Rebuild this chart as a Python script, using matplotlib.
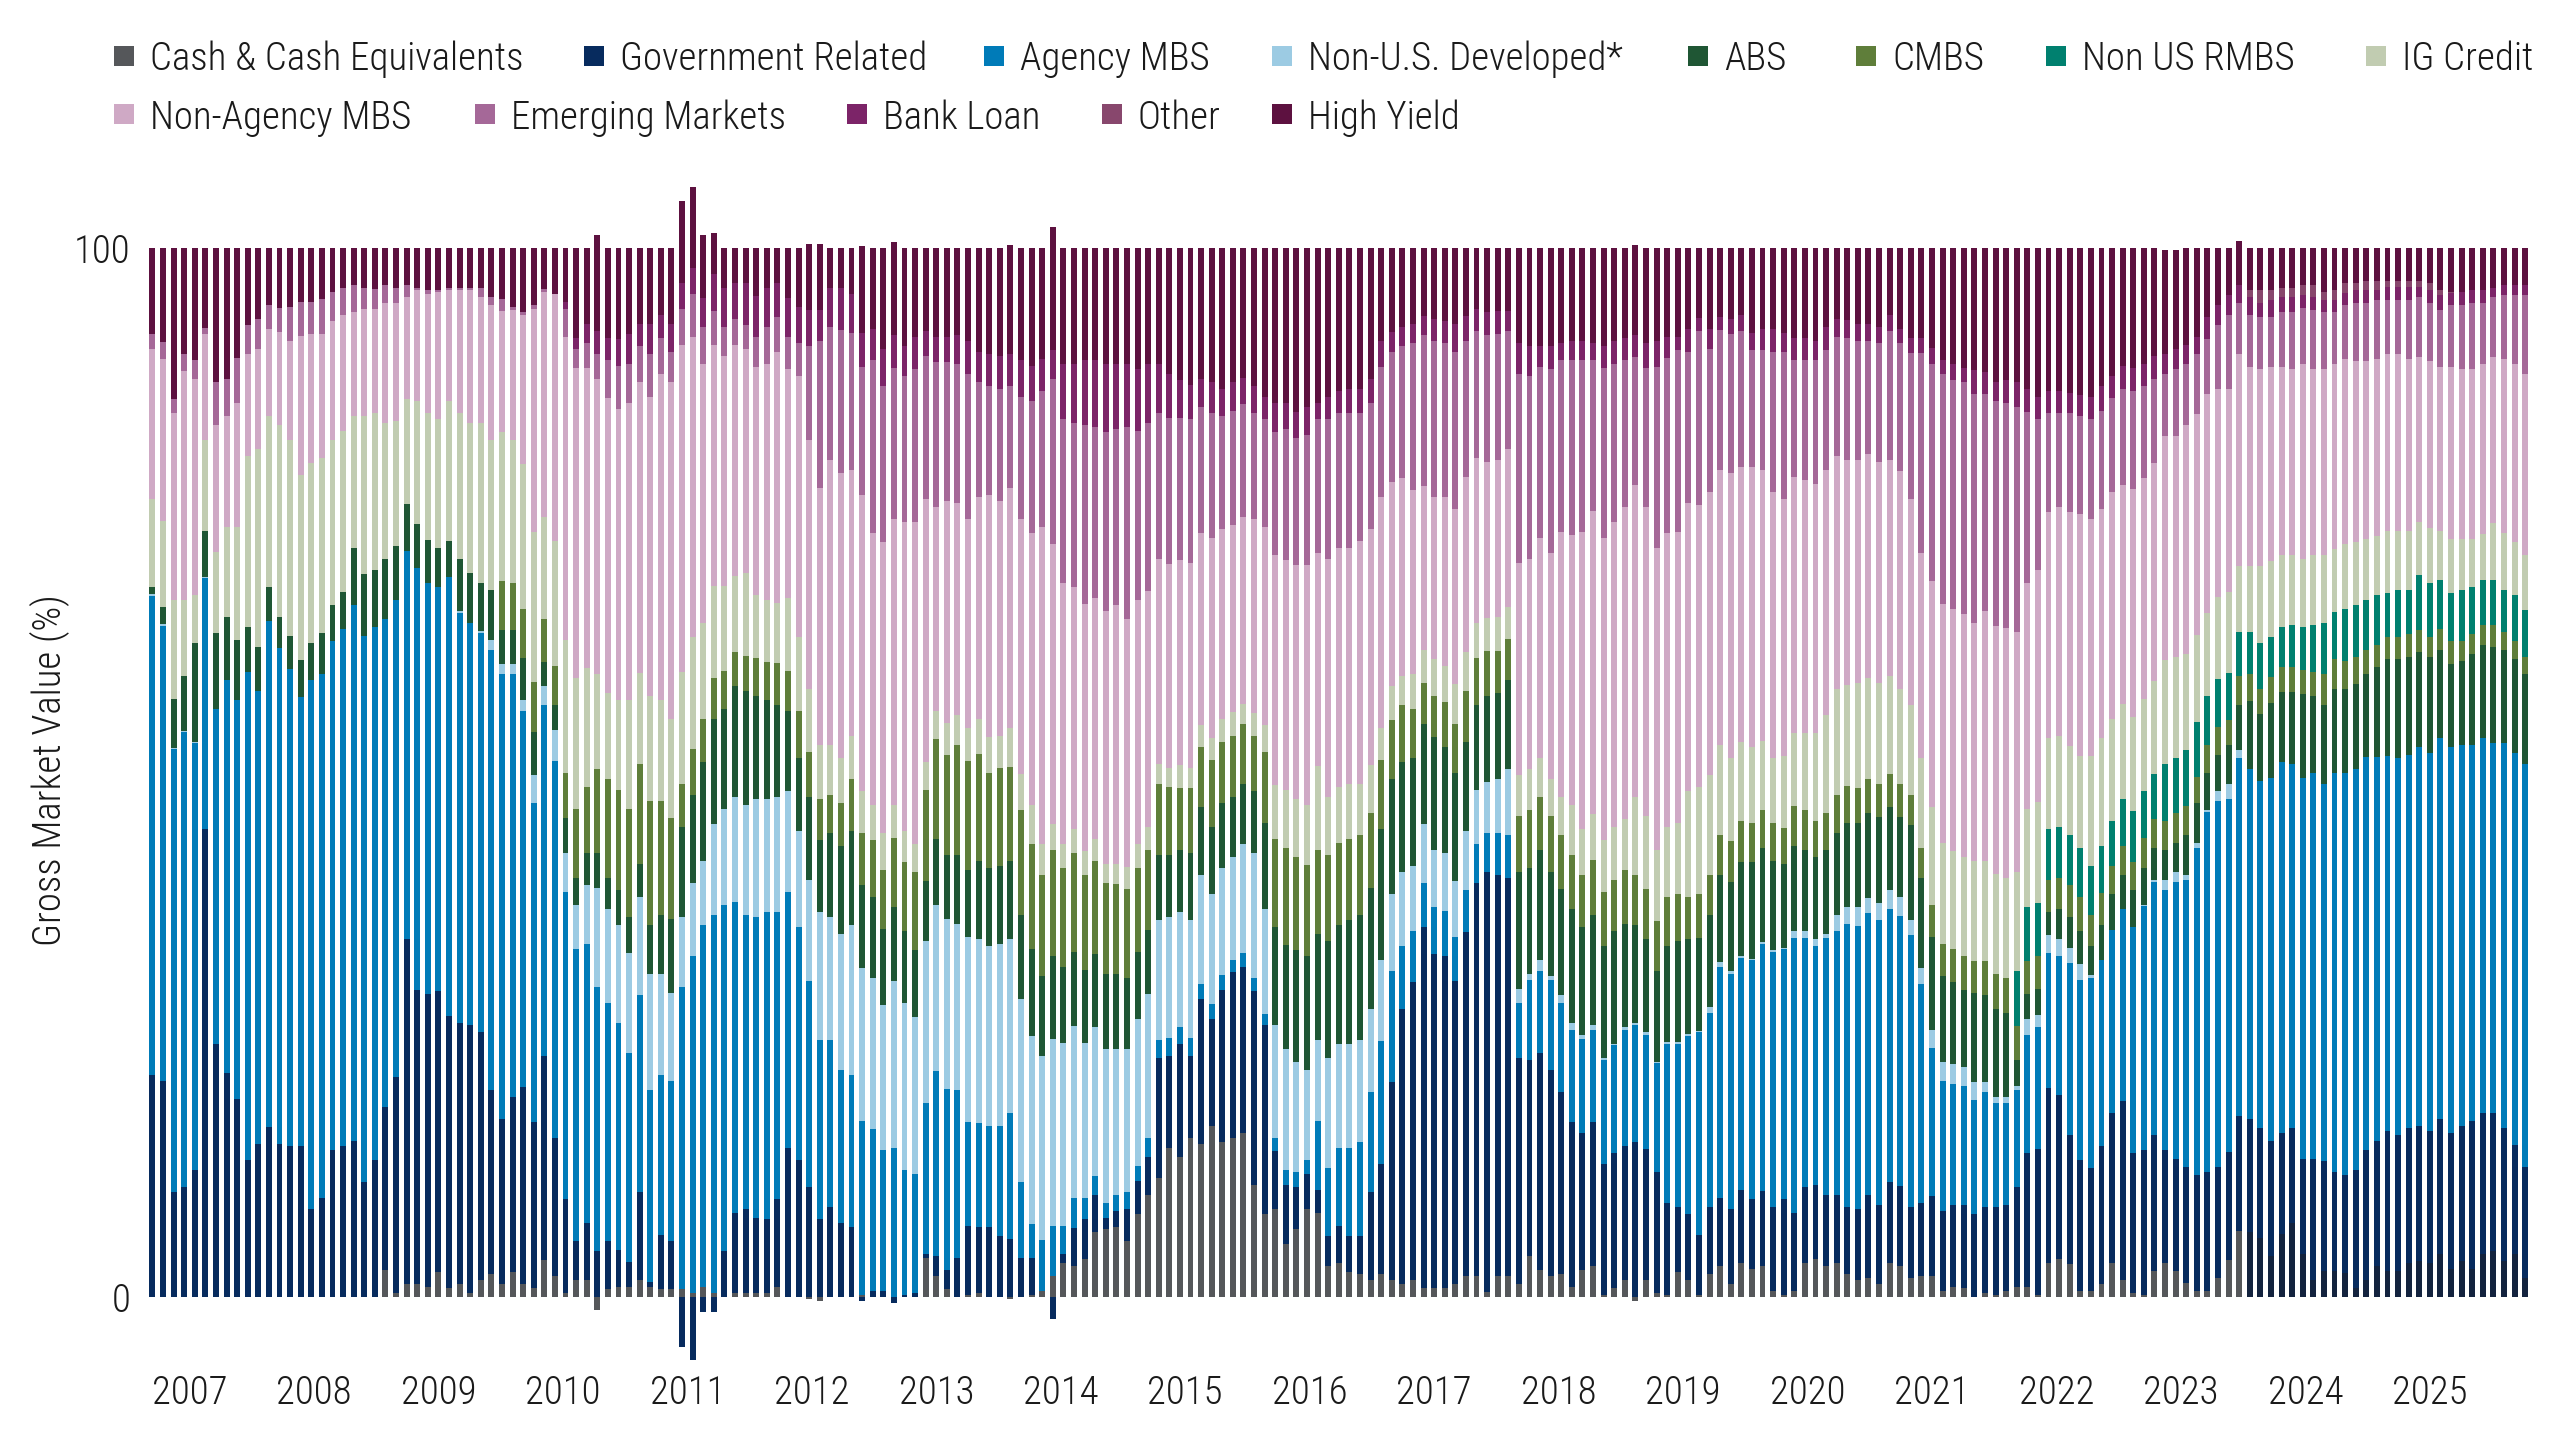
import matplotlib
matplotlib.use("Agg")
import matplotlib.pyplot as plt
from matplotlib import font_manager
from matplotlib.patches import Rectangle
import numpy as np

# ---------------- data (share of gross market value, %) ----------------
years = ["2007", "2008", "2009", "2010", "2011", "2012", "2013", "2014", "2015",
         "2016", "2017", "2018", "2019", "2020", "2021", "2022", "2023", "2024", "2025"]

cash = [
    0, 0, 0, 0, 0, 0, 0, 0, 0, 0, 0, 0, 0, 0, 0,
    0, 0, 0, 0, 0, 0, 0, 2.6, 0.4, 1.2, 1.2, 1.0, 2.4, 0.9, 1.2,
    0.4, 1.6, 2.2, 1.2, 2.4, 1.2, 0.9, 3.5, 2.0, 0.4, 1.6, 1.6, -1.2, 0.8, 1.0,
    1.0, 1.6, 1.0, 0.8, 0.8, 0.8, 0.4, 1.0, 0.4, 0, 0.4, 0.4, 0.4, 0.4, 1.0,
    0, 0, -0.2, -0.4, 0, 0, 0, 0.2, 0, 0, 0, 0, 0, 3.7, 2.0,
    0.8, 0, 0.2, 0.4, 0, 0, -0.2, 0, 0.2, 0.6, 2.0, 3.2, 3.0, 3.6, 6.2,
    6.5, 6.7, 5.3, 7.9, 9.7, 11.3, 14.2, 13.3, 15.2, 14.6, 16.3, 14.8, 15.2, 15.6, 10.7,
    7.9, 8.4, 5.1, 6.5, 8.4, 8.0, 3.0, 3.2, 2.4, 2.2, 1.6, 2.2, 1.6, 1.2, 1.6,
    0.9, 0.9, 0.9, 1.2, 2.0, 2.0, 0.5, 2.0, 2.0, 1.2, 3.9, 2.6, 2.0, 2.2, 1.0,
    2.6, 3.0, 0.2, 0.9, 1.6, -0.4, 1.6, 0.4, 0.2, 2.4, 1.6, 0.2, 2.2, 3.0, 1.2,
    3.2, 2.7, 3.0, 0.6, 0.2, 0.6, 3.2, 3.6, 3.0, 3.2, 2.2, 1.6, 1.8, 1.2, 3.2,
    3.0, 1.8, 2.0, 2.0, 0.6, 1.0, 0.9, 0, 0.4, 0.2, 0.6, 1.0, 1.0, 0.2, 3.2,
    3.6, 3.1, 0.6, 0.6, 1.2, 3.2, 1.6, 0.4, 0.2, 2.5, 3.2, 2.5, 1.3, 0.6, 0.6,
    1.8, 3.5, 6.3, 6.2, 5.6, 3.9, 6.0, 7.1, 4.1, 1.6, 2.5, 2.5, 2.3, 0.9, 1.6,
    3.0, 2.5, 2.5, 3.2, 3.4, 3.2, 4.1, 2.7, 3.4, 2.7, 4.1, 4.4, 3.4, 4.1, 1.8,
]

government_related = [
    21.2, 20.6, 10.0, 10.5, 12.1, 44.6, 24.1, 21.4, 18.9, 13.1, 14.6, 16.2, 14.6, 14.4, 14.4,
    8.4, 9.4, 14.0, 14.4, 14.9, 11.0, 13.1, 15.5, 20.6, 32.9, 28.1, 27.9, 26.8, 25.9, 24.9,
    25.5, 23.7, 17.5, 15.8, 16.7, 18.8, 15.8, 19.5, 13.2, 8.9, 3.7, 5.5, 4.4, 4.5, 3.5,
    2.3, 8.4, 0.4, 5.1, 4.5, -4.8, -6.0, -1.4, -1.4, 4.4, 7.6, 8.0, 7.1, 7.0, 8.3,
    14.2, 13.1, 10.5, 7.4, 8.6, 7.1, 6.7, -0.4, 0.6, 0.6, -0.6, 0.2, 0.4, 0.4, 1.9,
    1.8, 3.7, 6.6, 6.3, 6.7, 5.8, 5.5, 3.7, 3.5, 0, -2.1, 0.9, 3.6, 3.8, 3.5,
    1.0, 1.5, 3.1, 3.2, 3.6, 11.5, 8.8, 10.8, 7.8, 13.8, 10.2, 14.5, 15.8, 15.9, 18.5,
    18.0, 5.5, 5.6, 4.0, 3.3, 2.2, 2.8, 3.6, 3.4, 3.6, 8.4, 10.5, 18.9, 26.3, 28.4,
    34.4, 31.8, 31.6, 28.9, 32.8, 37.5, 40.0, 38.2, 37.9, 21.6, 18.7, 20.7, 19.6, 17.3, 15.7,
    13.0, 13.7, 12.5, 12.8, 12.8, 14.8, 12.5, 11.5, 8.8, 6.2, 6.3, 5.7, 6.4, 6.4, 7.2,
    7.0, 6.6, 7.1, 8.0, 9.1, 7.4, 7.3, 7.1, 6.7, 6.5, 6.4, 6.8, 7.9, 7.6, 7.8,
    7.6, 6.8, 7.0, 7.6, 7.6, 7.8, 7.9, 7.9, 8.2, 8.4, 8.2, 9.5, 12.7, 13.9, 16.7,
    15.7, 12.3, 12.5, 11.7, 13.2, 14.3, 17.1, 13.3, 13.8, 12.9, 10.8, 10.7, 11.1, 11.0, 11.3,
    10.6, 10.3, 11.0, 10.8, 10.5, 11.0, 9.6, 9.0, 9.1, 11.6, 10.5, 9.4, 9.3, 11.2, 12.4,
    11.9, 13.3, 12.9, 12.9, 12.9, 12.6, 12.9, 12.9, 12.9, 14.1, 13.4, 13.1, 12.7, 10.4, 10.6,
]

agency_mbs = [
    45.6, 43.4, 42.2, 43.4, 40.7, 23.9, 32.0, 37.4, 38.0, 46.5, 43.2, 48.2, 47.3, 45.5, 42.8,
    50.4, 50.0, 48.5, 49.3, 51.1, 52.0, 50.8, 46.5, 45.4, 37.0, 40.2, 39.2, 38.5, 41.8, 39.1,
    38.4, 38.0, 42.0, 42.4, 40.3, 35.9, 30.4, 33.4, 35.9, 29.3, 27.9, 26.6, 25.2, 22.7, 21.6,
    20.0, 18.8, 18.3, 15.3, 15.3, 28.8, 32.1, 34.5, 36.0, 33.0, 29.7, 28.0, 28.7, 29.3, 27.4,
    24.4, 22.2, 19.6, 17.1, 15.9, 14.5, 14.5, 16.6, 15.4, 13.4, 14.2, 11.9, 11.3, 14.4, 17.6,
    17.2, 16.0, 9.9, 9.9, 9.6, 10.5, 12.0, 7.3, 3.3, 4.8, 4.8, 2.7, 2.8, 2.0, 1.8,
    1.5, 1.5, 1.6, 1.4, 1.9, 1.7, 1.7, 1.6, 1.7, 1.4, 1.4, 1.4, 1.1, 1.3, 1.2,
    1.1, 1.3, 1.4, 1.4, 1.4, 6.6, 6.5, 7.4, 8.4, 9.0, 9.5, 11.7, 10.6, 6.0, 4.9,
    4.2, 4.5, 4.3, 4.2, 4.0, 3.7, 3.7, 4.0, 4.1, 5.2, 7.6, 7.8, 8.6, 8.5, 8.8,
    9.0, 8.8, 9.9, 10.3, 11.1, 11.1, 10.9, 10.4, 15.1, 15.5, 17.0, 19.4, 18.5, 22.1, 22.4,
    22.1, 22.8, 23.6, 24.3, 23.9, 26.2, 23.7, 22.8, 24.5, 25.2, 27.0, 27.0, 26.9, 27.1, 26.0,
    25.7, 25.9, 20.8, 14.1, 12.4, 11.5, 11.3, 10.9, 10.9, 9.9, 9.7, 9.2, 11.3, 11.6, 12.9,
    13.2, 16.4, 17.1, 18.1, 17.7, 17.5, 18.3, 21.6, 23.3, 24.2, 24.8, 26.4, 27.4, 31.2, 34.3,
    34.9, 33.7, 34.1, 33.3, 33.1, 34.6, 35.4, 34.7, 36.3, 36.8, 35.9, 38.1, 38.4, 38.2, 37.5,
    36.6, 35.8, 36.0, 35.6, 36.1, 36.1, 36.3, 36.8, 36.3, 35.8, 35.8, 35.3, 36.7, 37.4, 38.4,
]

non_us_developed = [
    0.2, 0.2, 0.1, 0.1, 0.1, 0.1, 0, 0, 0, 0, 0, 0, 0, 0, 0,
    0, 0, 0, 0, 0, 0, 0, 0, 0, 0, 0, 0, 0, 0, 0.2,
    0, 0.2, 0.9, 0.9, 0.9, 1.0, 2.7, 1.8, 3.0, 3.7, 4.2, 5.6, 9.4, 9.0, 9.4,
    9.5, 9.3, 11.1, 9.6, 8.4, 6.6, 7.0, 6.1, 8.7, 9.1, 10.0, 10.5, 11.3, 10.8, 11.0,
    9.6, 9.1, 9.7, 12.2, 11.7, 13.0, 14.3, 14.6, 14.4, 13.8, 15.9, 15.9, 15.0, 15.4, 15.9,
    16.2, 15.9, 17.6, 17.5, 17.2, 17.4, 16.6, 17.4, 17.9, 17.6, 17.8, 17.4, 16.4, 14.8, 14.2,
    14.6, 13.9, 13.6, 14.0, 13.7, 11.4, 11.5, 11.0, 11.2, 10.4, 10.5, 10.2, 9.8, 10.4, 11.9,
    10.0, 10.7, 11.5, 10.5, 8.5, 7.7, 10.5, 9.9, 9.9, 9.7, 8.0, 7.7, 7.3, 7.0, 6.2,
    5.6, 5.4, 5.5, 5.4, 5.6, 5.1, 4.9, 5.2, 6.3, 1.4, 0.6, 1.0, 0.4, 0.8, 0.6,
    0.4, 0.4, 0.2, 0.1, 0.2, 0.2, 0.3, 0.1, 0.2, 0.2, 0.2, 0.1, 0.5, 0.4, 0.3,
    0.2, 0.1, 0.1, 0.2, 0.1, 0.7, 0.7, 0.6, 0.4, 1.5, 1.6, 1.8, 1.4, 1.7, 1.8,
    1.8, 1.4, 1.6, 1.8, 1.8, 1.9, 1.8, 1.7, 1.0, 0.6, 0.6, 0.4, 1.5, 1.2, 1.7,
    1.6, 1.5, 1.5, 0.3, 0, 0, 0, 0, 0.1, 0.2, 1.0, 0.9, 0.4, 0.5, 0.2,
    0.9, 1.4, 0.7, 0, 0, 0, 0, 0, 0, 0, 0, 0, 0, 0, 0,
    0, 0, 0, 0, 0, 0, 0, 0, 0, 0, 0, 0, 0, 0, 0,
]

abs_ = [
    0.7, 1.6, 4.7, 5.2, 9.4, 4.4, 7.2, 6.0, 5.7, 4.3, 4.2, 3.3, 2.9, 3.1, 3.5,
    3.5, 3.9, 3.5, 3.5, 5.4, 5.9, 5.4, 5.8, 5.2, 4.5, 4.2, 4.1, 3.7, 3.5, 5.0,
    4.7, 4.6, 4.8, 3.3, 3.3, 4.0, 4.1, 2.3, 2.3, 3.4, 2.5, 3.0, 3.3, 2.9, 3.3,
    3.4, 3.2, 4.7, 5.6, 7.0, 8.6, 8.4, 9.4, 10.0, 9.6, 10.5, 10.9, 9.8, 9.4, 8.7,
    7.7, 7.0, 7.9, 6.9, 8.0, 8.4, 8.9, 7.9, 7.7, 7.3, 7.1, 6.9, 6.4, 5.8, 6.3,
    6.1, 6.5, 6.4, 7.5, 7.4, 7.4, 7.5, 8.0, 8.3, 7.6, 7.9, 7.3, 7.1, 7.0, 7.0,
    7.2, 7.2, 6.8, 6.4, 6.1, 6.2, 5.9, 5.9, 6.4, 6.5, 6.4, 6.2, 5.8, 5.7, 5.9,
    8.2, 9.4, 10.0, 10.7, 10.9, 10.1, 11.1, 11.4, 11.8, 11.9, 11.5, 12.5, 11.0, 10.5, 10.3,
    9.5, 10.8, 10.1, 10.3, 8.5, 8.1, 8.2, 8.2, 8.5, 11.1, 10.1, 10.5, 9.9, 10.1, 10.9,
    10.3, 10.5, 10.7, 10.8, 9.9, 9.4, 8.8, 8.7, 9.2, 9.6, 9.0, 8.8, 8.8, 8.3, 8.5,
    9.0, 9.3, 9.0, 8.5, 8.0, 8.1, 7.7, 7.8, 8.0, 7.8, 8.0, 8.0, 8.1, 8.2, 7.9,
    7.7, 9.1, 8.5, 8.8, 8.2, 7.8, 7.4, 8.5, 8.3, 8.4, 8.0, 2.5, 2.4, 2.5, 2.2,
    2.9, 2.9, 3.2, 2.8, 3.4, 3.4, 3.2, 3.5, 3.5, 3.0, 2.8, 2.8, 3.8, 3.8, 3.6,
    3.5, 3.7, 4.3, 6.5, 6.4, 7.1, 6.7, 6.9, 8.0, 7.3, 7.5, 8.0, 8.0, 8.1, 7.9,
    8.6, 9.2, 9.4, 9.3, 9.1, 9.1, 8.4, 7.9, 8.0, 8.7, 8.9, 9.2, 8.9, 8.9, 8.6,
]

cmbs = [
    0, 0, 0, 0, 0, 0, 0, 0, 0, 0, 0, 0, 0, 0, 0,
    0, 0, 0, 0, 0, 0, 0, 0, 0, 0, 0, 0, 0, 0, 0,
    0, 0, 0, 4.7, 4.5, 4.7, 4.7, 4.1, 3.8, 4.3, 6.6, 6.3, 8.0, 9.5, 9.5,
    10.3, 9.5, 11.8, 10.9, 9.7, 4.1, 4.3, 4.1, 3.9, 3.6, 3.3, 3.3, 3.6, 3.6, 4.0,
    3.8, 4.5, 4.3, 3.9, 3.7, 4.1, 5.0, 4.9, 5.5, 5.6, 6.6, 6.6, 7.4, 8.6, 9.5,
    9.6, 10.5, 10.4, 10.2, 9.1, 9.3, 8.9, 10.0, 10.0, 9.6, 10.1, 9.4, 9.4, 9.0, 8.9,
    8.7, 8.6, 8.5, 8.0, 7.6, 6.8, 6.5, 5.9, 6.2, 5.7, 6.4, 5.8, 5.8, 5.7, 5.3,
    6.8, 8.4, 9.2, 8.8, 8.7, 8.0, 8.2, 7.8, 7.8, 7.6, 7.1, 6.6, 5.6, 5.4, 4.7,
    3.9, 3.9, 4.3, 4.6, 4.9, 4.5, 4.3, 4.0, 3.9, 5.4, 5.5, 5.1, 5.4, 5.1, 5.1,
    4.9, 5.3, 5.1, 4.9, 5.1, 4.7, 4.8, 4.7, 4.6, 4.5, 4.0, 4.2, 3.8, 3.8, 3.9,
    3.9, 3.7, 3.6, 3.6, 3.4, 3.8, 3.8, 3.5, 3.5, 3.7, 3.5, 3.3, 3.3, 3.1, 3.2,
    3.1, 2.9, 2.9, 3.1, 3.1, 3.2, 3.2, 3.0, 3.2, 3.3, 3.3, 3.2, 3.1, 3.1, 3.1,
    2.9, 3.1, 3.2, 2.9, 3.0, 2.7, 2.8, 2.7, 2.9, 2.8, 2.8, 2.8, 2.8, 2.5, 2.6,
    2.6, 2.4, 2.8, 2.6, 2.4, 2.5, 2.4, 2.4, 2.3, 2.3, 3.0, 2.8, 2.6, 2.6, 2.3,
    2.1, 2.1, 2.1, 2.2, 2.1, 1.9, 2.0, 2.2, 1.9, 1.9, 1.9, 2.1, 1.7, 1.7, 1.6,
]

non_us_rmbs = [
    0, 0, 0, 0, 0, 0, 0, 0, 0, 0, 0, 0, 0, 0, 0,
    0, 0, 0, 0, 0, 0, 0, 0, 0, 0, 0, 0, 0, 0, 0,
    0, 0, 0, 0, 0, 0, 0, 0, 0, 0, 0, 0, 0, 0, 0,
    0, 0, 0, 0, 0, 0, 0, 0, 0, 0, 0, 0, 0, 0, 0,
    0, 0, 0, 0, 0, 0, 0, 0, 0, 0, 0, 0, 0, 0, 0,
    0, 0, 0, 0, 0, 0, 0, 0, 0, 0, 0, 0, 0, 0, 0,
    0, 0, 0, 0, 0, 0, 0, 0, 0, 0, 0, 0, 0, 0, 0,
    0, 0, 0, 0, 0, 0, 0, 0, 0, 0, 0, 0, 0, 0, 0,
    0, 0, 0, 0, 0, 0, 0, 0, 0, 0, 0, 0, 0, 0, 0,
    0, 0, 0, 0, 0, 0, 0, 0, 0, 0, 0, 0, 0, 0, 0,
    0, 0, 0, 0, 0, 0, 0, 0, 0, 0, 0, 0, 0, 0, 0,
    0, 0, 0, 0, 0, 0, 0, 0, 0, 0, 0, 5.3, 5.2, 5.1, 4.8,
    4.9, 4.7, 4.7, 4.7, 4.5, 4.3, 4.5, 4.8, 4.4, 4.3, 5.4, 5.3, 5.3, 5.2, 4.7,
    4.6, 4.5, 4.2, 4.0, 4.3, 3.8, 3.8, 4.0, 4.1, 4.5, 4.9, 4.5, 5.0, 5.0, 4.7,
    4.7, 4.2, 4.5, 4.2, 5.2, 5.2, 4.7, 4.6, 4.9, 4.5, 4.3, 4.3, 4.0, 4.4, 4.5,
]

ig_credit = [
    8.4, 8.2, 9.4, 7.2, 4.6, 8.7, 7.7, 8.6, 10.8, 16.3, 18.8, 16.3, 18.3, 18.7, 17.7,
    17.2, 16.7, 15.7, 15.4, 12.6, 15.1, 15.0, 12.9, 11.9, 10.0, 11.7, 12.1, 12.3, 13.3, 13.9,
    14.3, 15.2, 14.3, 14.2, 13.6, 13.8, 14.3, 9.8, 11.9, 12.6, 12.5, 11.4, 9.1, 8.2, 8.6,
    10.4, 8.7, 10.0, 9.6, 9.4, 10.7, 10.7, 9.2, 8.8, 8.1, 7.2, 7.9, 6.0, 5.9, 5.8,
    6.9, 7.0, 6.0, 5.1, 4.7, 4.3, 4.1, 4.0, 3.3, 3.5, 3.1, 2.9, 2.7, 2.7, 2.7,
    3.0, 2.9, 3.1, 3.3, 3.4, 3.1, 3.7, 3.5, 3.7, 3.0, 2.5, 2.3, 2.3, 2.3, 2.1,
    1.8, 1.9, 2.1, 2.3, 2.2, 1.9, 1.8, 2.2, 1.9, 2.1, 2.1, 2.2, 2.3, 1.9, 2.2,
    2.5, 5.1, 5.5, 5.6, 5.7, 8.0, 5.6, 5.3, 5.2, 4.9, 4.6, 3.0, 3.2, 2.8, 3.3,
    3.2, 3.5, 3.5, 3.8, 3.7, 3.4, 3.1, 3.2, 3.1, 3.9, 3.9, 3.7, 3.5, 3.7, 4.8,
    4.4, 4.3, 5.0, 5.0, 4.9, 7.5, 7.0, 6.8, 6.7, 6.8, 10.1, 10.2, 9.6, 8.6, 7.9,
    7.5, 7.2, 6.6, 6.2, 6.9, 7.0, 7.4, 8.4, 9.4, 10.1, 9.6, 10.0, 9.6, 9.6, 9.3,
    9.1, 8.5, 8.6, 9.3, 9.6, 9.3, 9.4, 9.6, 9.6, 9.5, 9.5, 9.4, 9.3, 9.6, 8.7,
    8.7, 8.5, 8.8, 10.5, 10.3, 9.7, 9.0, 9.0, 8.8, 8.8, 9.9, 9.6, 9.2, 8.3, 7.9,
    7.8, 7.7, 6.3, 6.3, 7.4, 7.3, 6.8, 6.6, 6.5, 6.6, 6.4, 6.0, 6.2, 6.0, 5.9,
    5.6, 5.9, 5.6, 5.6, 5.1, 5.2, 4.6, 5.2, 4.9, 4.6, 4.3, 5.4, 5.4, 5.1, 5.2,
]

non_agency_mbs = [
    14.3, 15.4, 17.9, 21.9, 20.6, 10.1, 12.1, 10.6, 11.8, 9.7, 9.6, 8.3, 8.9, 9.4, 13.2,
    12.3, 11.8, 11.3, 11.0, 9.9, 10.2, 9.9, 11.5, 11.3, 9.7, 10.6, 11.3, 12.1, 10.6, 11.7,
    12.7, 12.0, 12.9, 11.5, 12.4, 14.2, 21.3, 21.4, 23.5, 28.9, 29.6, 28.6, 28.1, 28.1, 27.8,
    28.3, 27.7, 28.5, 31.1, 32.1, 31.2, 28.6, 24.6, 23.0, 21.9, 22.1, 21.4, 21.8, 22.5, 23.9,
    21.9, 24.9, 23.7, 24.5, 27.2, 27.2, 25.3, 28.3, 25.9, 27.8, 27.3, 29.5, 30.7, 25.1, 19.4,
    21.2, 20.2, 20.0, 21.2, 23.1, 22.4, 22.9, 24.3, 25.9, 30.2, 26.7, 24.9, 23.1, 23.6, 22.9,
    24.1, 24.7, 23.6, 23.2, 22.5, 19.6, 19.5, 19.6, 19.6, 18.3, 19.1, 18.1, 17.8, 17.9, 18.5,
    18.9, 21.9, 22.0, 22.3, 22.9, 20.3, 22.7, 22.8, 22.5, 23.2, 22.5, 22.1, 19.5, 18.9, 17.5,
    15.6, 15.5, 16.1, 16.7, 16.7, 15.7, 14.9, 15.0, 15.0, 20.2, 20.1, 21.0, 21.5, 25.2, 25.7,
    28.3, 28.9, 28.8, 29.1, 29.7, 29.7, 29.4, 28.8, 28.0, 27.7, 27.5, 26.9, 26.9, 26.2, 27.2,
    26.2, 26.7, 25.8, 25.3, 24.5, 24.4, 24.1, 23.7, 23.3, 22.2, 21.5, 21.3, 21.4, 21.1, 20.6,
    20.7, 19.7, 19.5, 21.6, 22.8, 23.1, 23.2, 22.7, 23.8, 23.7, 23.9, 22.9, 21.6, 22.1, 21.5,
    21.8, 22.3, 23.0, 22.6, 21.8, 21.6, 20.9, 21.7, 21.1, 20.8, 21.4, 21.1, 21.8, 21.1, 20.9,
    19.9, 19.4, 20.2, 19.0, 18.8, 18.5, 18.0, 17.8, 18.5, 17.8, 17.8, 17.6, 17.6, 17.2, 16.9,
    16.9, 16.9, 16.9, 16.4, 15.7, 15.9, 15.7, 16.4, 16.2, 16.2, 16.2, 15.8, 16.6, 16.9, 17.3,
]

emerging_markets = [
    1.4, 1.6, 1.3, 1.6, 1.8, 0.6, 4.1, 3.5, 4.3, 2.8, 2.8, 2.3, 2.3, 3.3, 3.3,
    3.1, 3.3, 2.8, 2.6, 2.6, 2.0, 1.9, 1.7, 1.4, 1.2, 0.2, 0.4, 0.2, 0.2, 0.2,
    0.2, 0.9, 0.7, 1.1, 0.3, 0.3, 0.4, 0.3, 0, 2.7, 1.8, 2.3, 2.4, 3.6, 4.1,
    3.7, 3.5, 4.1, 3.4, 2.9, 3.4, 4.1, 3.6, 3.2, 2.8, 2.4, 2.3, 2.8, 3.6, 3.3,
    3.0, 3.1, 9.0, 14.0, 12.7, 13.6, 13.1, 12.2, 16.5, 14.8, 14.4, 13.9, 14.6, 13.6, 13.8,
    13.2, 13.2, 13.8, 10.9, 10.3, 10.7, 9.7, 11.6, 12.6, 13.0, 15.7, 15.6, 15.6, 17.0, 16.3,
    17.1, 16.7, 18.3, 16.2, 16.0, 13.9, 13.9, 13.5, 13.7, 12.0, 11.9, 10.8, 10.9, 10.7, 10.1,
    10.3, 11.8, 12.4, 12.1, 12.4, 12.8, 13.3, 12.9, 12.9, 12.2, 12.0, 12.4, 12.4, 12.6, 14.0,
    14.4, 14.8, 14.6, 15.0, 12.9, 12.1, 12.1, 12.0, 11.3, 18.0, 17.4, 16.3, 17.6, 16.4, 16.7,
    16.4, 14.4, 16.2, 15.0, 14.0, 12.2, 13.3, 17.3, 16.7, 17.4, 14.4, 16.6, 13.7, 13.4, 13.2,
    13.0, 11.2, 11.5, 13.4, 14.0, 11.1, 11.4, 11.8, 11.5, 11.3, 11.6, 11.3, 10.7, 11.3, 12.3,
    12.2, 13.9, 19.1, 20.6, 21.9, 21.8, 22.1, 21.8, 20.7, 21.4, 21.4, 21.4, 16.3, 14.4, 9.5,
    9.0, 9.5, 9.4, 9.5, 9.4, 9.0, 9.2, 9.4, 8.7, 8.0, 5.9, 6.4, 5.8, 5.7, 5.2,
    6.1, 7.0, 4.9, 4.9, 4.9, 4.7, 5.2, 5.4, 5.4, 5.6, 5.4, 5.0, 5.2, 5.6, 5.6,
    5.6, 5.1, 5.1, 5.6, 5.7, 5.6, 5.4, 5.9, 6.1, 6.3, 5.9, 5.7, 6.1, 6.6, 7.5,
]

bank_loan = [
    0, 0, 0, 0, 0, 0, 0, 0, 0, 0, 0, 0, 0, 0, 0,
    0, 0, 0, 0, 0, 0, 0, 0, 0, 0, 0, 0, 0, 0, 0,
    0, 0, 0, 0, 0, 0, 0, 0, 0, 0.7, 1.0, 1.9, 2.2, 2.1, 2.5,
    2.9, 2.1, 2.9, 2.2, 2.7, 2.5, 2.5, 2.7, 3.5, 3.7, 3.5, 4.0, 3.9, 3.7, 3.3,
    3.7, 3.5, 3.4, 3.0, 3.7, 4.0, 3.7, 3.2, 3.0, 3.6, 3.1, 2.9, 3.0, 2.4, 2.4,
    2.4, 2.8, 3.1, 2.9, 3.1, 3.1, 3.1, 3.5, 3.4, 3.0, 2.8, 5.2, 5.6, 6.2, 6.4,
    6.4, 6.2, 6.0, 5.9, 5.6, 4.6, 4.2, 3.6, 3.2, 2.7, 2.9, 2.6, 2.7, 2.5, 2.5,
    2.1, 2.7, 2.5, 2.5, 2.6, 1.5, 2.1, 2.1, 2.3, 2.3, 2.3, 2.4, 1.9, 1.8, 1.9,
    1.8, 2.1, 2.1, 2.7, 2.4, 2.1, 2.2, 2.2, 1.9, 2.9, 2.9, 2.0, 2.2, 1.6, 1.8,
    1.8, 1.6, 2.1, 2.2, 2.1, 2.1, 2.3, 2.4, 2.0, 1.2, 2.2, 1.2, 1.9, 1.2, 1.4,
    1.5, 1.6, 2.0, 2.2, 1.8, 2.1, 2.1, 1.8, 2.2, 1.7, 1.7, 1.7, 1.7, 1.6, 1.5,
    1.4, 1.4, 1.4, 1.6, 1.3, 1.5, 1.4, 2.3, 2.1, 1.8, 2.2, 2.4, 2.2, 2.1, 2.1,
    2.1, 1.9, 2.0, 2.1, 2.3, 2.1, 2.2, 2.2, 2.1, 2.2, 1.9, 1.9, 1.9, 1.6, 2.1,
    1.9, 1.9, 1.7, 1.7, 1.4, 1.6, 1.4, 1.4, 1.2, 1.2, 1.1, 1.1, 1.1, 1.2, 1.2,
    1.0, 1.3, 1.3, 1.3, 1.0, 1.2, 1.4, 1.1, 1.2, 1.2, 1.2, 0.9, 1.0, 1.0, 1.0,
]

other = [
    0, 0, 0, 0, 0, 0, 0, 0, 0, 0, 0, 0, 0, 0, 0,
    0, 0, 0, 0, 0, 0, 0, 0, 0, 0, 0, 0, 0, 0, 0,
    0, 0, 0, 0, 0, 0, 0, 0, 0, 0, 0, 0, 0, 0, 0,
    0, 0, 0, 0, 0, 0, 0, 0, 0, 0, 0, 0, 0, 0, 0,
    0, 0, 0, 0, 0, 0, 0, 0, 0, 0, 0, 0, 0, 0, 0,
    0, 0, 0, 0, 0, 0, 0, 0, 0, 0, 0, 0, 0, 0, 0,
    0, 0, 0, 0, 0, 0, 0, 0, 0, 0, 0, 0, 0, 0, 0,
    0, 0, 0, 0, 0, 0, 0, 0, 0, 0, 0, 0, 0, 0, 0,
    0, 0, 0, 0, 0, 0, 0, 0, 0, 0, 0, 0, 0, 0, 0,
    0, 0, 0, 0, 0, 0, 0, 0, 0, 0, 0, 0, 0, 0, 0,
    0, 0, 0, 0, 0, 0, 0, 0, 0, 0, 0, 0, 0, 0, 0,
    0, 0, 0, 0, 0, 0, 0, 0, 0, 0, 0, 0, 0, 0, 0,
    0, 0, 0, 0, 0, 0, 0, 0, 0, 0, 0, 0, 0, 0, 0,
    0, 0, 0, 0.7, 1.2, 1.0, 0.9, 0.9, 1.0, 1.2, 0.8, 1.0, 1.0, 0.7, 0.9,
    0.9, 0.6, 0.6, 0.6, 0.6, 0.7, 0.5, 0.1, 0, 0, 0, 0, 0, 0, 0,
]

high_yield = [
    8.2, 9.0, 14.4, 10.1, 10.7, 7.6, 12.8, 12.5, 10.5, 7.3, 6.8, 5.4, 5.7, 5.6, 5.1,
    5.1, 4.9, 4.2, 3.8, 3.5, 3.8, 3.9, 3.5, 3.8, 3.5, 3.8, 4.0, 4.0, 3.8, 3.8,
    3.8, 3.8, 4.7, 4.9, 5.6, 6.1, 5.4, 3.9, 4.4, 5.1, 8.6, 7.2, 9.1, 8.6, 8.7,
    8.2, 7.2, 7.2, 6.4, 7.2, 7.8, 7.7, 6.0, 3.9, 3.8, 3.3, 3.3, 4.6, 3.8, 3.3,
    4.8, 5.6, 6.3, 6.3, 3.8, 3.8, 4.4, 8.3, 7.7, 9.6, 8.9, 9.3, 8.5, 7.9, 8.5,
    8.5, 8.3, 8.9, 9.9, 10.1, 10.3, 10.4, 10.7, 11.2, 10.6, 11.7, 11.1, 11.1, 10.7, 10.7,
    11.1, 11.1, 11.1, 11.5, 11.1, 11.1, 12.0, 12.6, 13.1, 12.5, 12.8, 13.4, 12.8, 12.4, 13.2,
    14.2, 14.8, 14.8, 15.6, 15.2, 14.8, 14.2, 13.6, 13.4, 13.4, 12.5, 8.9, 8.0, 7.5, 7.2,
    6.5, 6.8, 7.0, 7.2, 6.5, 5.8, 6.1, 6.0, 6.0, 9.1, 9.3, 9.3, 9.3, 9.1, 8.9,
    8.9, 9.1, 9.3, 8.9, 8.6, 8.6, 9.1, 8.9, 8.5, 8.5, 7.7, 6.7, 7.7, 6.6, 6.8,
    6.4, 8.1, 7.7, 7.7, 8.1, 8.6, 8.6, 8.9, 7.5, 6.8, 6.9, 7.2, 7.2, 7.5, 6.4,
    7.7, 8.6, 8.6, 9.5, 10.7, 11.1, 11.4, 11.6, 11.8, 12.8, 12.6, 12.8, 13.4, 14.2, 13.6,
    13.6, 13.8, 14.0, 14.2, 13.2, 12.2, 11.2, 11.4, 11.1, 10.3, 9.9, 9.4, 9.2, 8.5, 6.6,
    5.4, 4.5, 4.2, 4.0, 4.0, 4.0, 3.8, 3.8, 3.5, 3.5, 4.2, 4.0, 3.3, 3.3, 3.1,
    3.1, 3.1, 3.1, 3.1, 3.1, 3.3, 4.0, 4.2, 4.2, 4.0, 4.0, 3.8, 3.5, 3.5, 3.5,
]

series_labels = ["Cash & Cash Equivalents", "Government Related", "Agency MBS",
                 "Non-U.S. Developed*", "ABS", "CMBS", "Non US RMBS", "IG Credit",
                 "Non-Agency MBS", "Emerging Markets", "Bank Loan", "Other", "High Yield"]
series_values = [cash, government_related, agency_mbs, non_us_developed, abs_, cmbs,
                 non_us_rmbs, ig_credit, non_agency_mbs, emerging_markets, bank_loan,
                 other, high_yield]
series_colors = ["#55575A", "#072B5E", "#007BB8", "#9CCBE3", "#1F5634", "#5F7E3A",
                 "#00806F", "#C1CCB1", "#CFA9C5", "#A56898", "#7C2468", "#88476D", "#5D1140"]
cash_dark_color = "#13233E"
cash_dark_from = 198

# ---------------- fonts ----------------
names = {f.name for f in font_manager.fontManager.ttflist}
font_family = None
for cand in ["Roboto Condensed", "Liberation Sans Narrow", "Arial Narrow",
             "Open Sans Condensed", "Noto Sans Display"]:
    if cand in names:
        font_family = cand
        break
if font_family is None:
    font_family = "Liberation Sans" if "Liberation Sans" in names else "DejaVu Sans"
    fs = 23
else:
    fs = 28
plt.rcParams["font.family"] = [font_family, "DejaVu Sans"]
plt.rcParams["font.weight"] = "light"
text_color = "#1A1A1A"

# ---------------- figure ----------------
W, H = 2560, 1440
fig = plt.figure(figsize=(W / 100, H / 100), dpi=100)
fig.patch.set_facecolor("white")

ax_left_px, ax_right_px = 147.1, 2530.5
ax_top_px, ax_bot_px = 164.1, 1365.2
ax = fig.add_axes([ax_left_px / W, 1 - ax_bot_px / H,
                   (ax_right_px - ax_left_px) / W, (ax_bot_px - ax_top_px) / H])

n = len(cash)
x = np.arange(n)
pos = np.zeros(n)
neg = np.zeros(n)
for i, (vals, col) in enumerate(zip(series_values, series_colors)):
    v = np.asarray(vals, dtype=float)
    bottom = np.where(v >= 0, pos, neg)
    if i == 0:
        cols = [col if k < cash_dark_from else cash_dark_color for k in range(n)]
    else:
        cols = col
    ax.bar(x, v, bottom=bottom, width=0.56, color=cols, linewidth=0)
    pos = pos + np.where(v > 0, v, 0)
    neg = neg + np.where(v < 0, v, 0)

ax.set_xlim(-0.5, n - 0.5)
ax.set_ylim(-6.5, 108)
for s in ax.spines.values():
    s.set_visible(False)

ax.set_yticks([0, 100])
ax.set_yticklabels(["0", "100"], fontsize=fs, color=text_color)
ax.tick_params(axis="y", length=0, pad=12)

year_pos = [-0.06 + 11.75 * k for k in range(len(years))]
ax.set_xticks(year_pos)
ax.set_xticklabels(years, fontsize=fs, color=text_color)
for lab in ax.get_xticklabels():
    lab.set_horizontalalignment("left")
ax.tick_params(axis="x", length=0, pad=7)

fig.text(50 / W, 1 - 770 / H, "Gross Market Value (%)", rotation=90,
         ha="center", va="center", fontsize=fs, color=text_color)

# ---------------- legend (manual, two rows) ----------------
row1 = [(0, 114), (1, 584), (2, 984), (3, 1272), (4, 1688), (5, 1856), (6, 2046), (7, 2366)]
row2 = [(8, 114), (9, 475), (10, 847), (11, 1102), (12, 1272)]
sq = 20
for row, yc, base in [(row1, 55.6, 70.0), (row2, 114.4, 129.0)]:
    for idx, xl in row:
        fig.patches.append(Rectangle((xl / W, 1 - (yc + sq / 2) / H), sq / W, sq / H,
                                     transform=fig.transFigure, facecolor=series_colors[idx],
                                     edgecolor="none"))
        fig.text((xl + 36) / W, 1 - base / H, series_labels[idx], ha="left",
                 va="baseline", fontsize=fs, color=text_color)

fig.savefig("out.png", dpi=100, facecolor="white")
